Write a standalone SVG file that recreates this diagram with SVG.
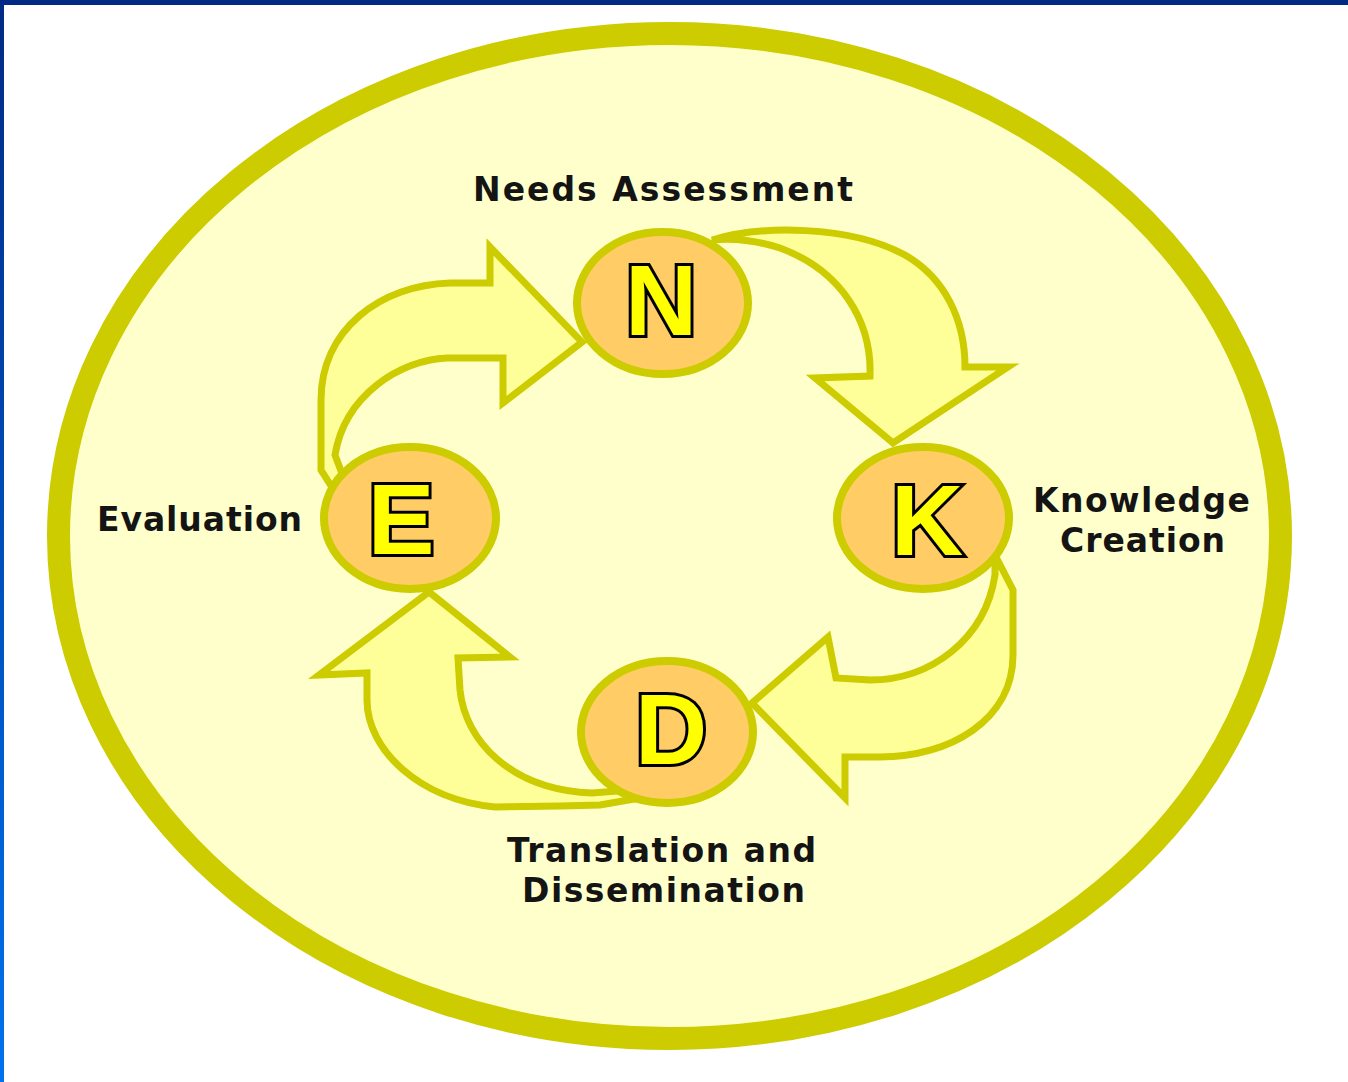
<svg xmlns="http://www.w3.org/2000/svg" width="1348" height="1082" viewBox="0 0 1348 1082">
  <defs>
    <linearGradient id="leftEdge" x1="0" y1="0" x2="0" y2="1">
      <stop offset="0" stop-color="#002a85"/>
      <stop offset="1" stop-color="#0072ee"/>
    </linearGradient>
    <style>
      .arrow { fill: #ffff99; stroke: #cccc00; stroke-width: 7; stroke-linejoin: miter; stroke-miterlimit: 10; }
      .node { fill: #ffcc66; stroke: #cccc00; stroke-width: 8; }
      .letter { font-family: "Liberation Sans", Arial, sans-serif; font-weight: bold; font-size: 100px; fill: #ffff00; stroke: #000000; stroke-width: 6; paint-order: stroke; stroke-linejoin: miter; text-anchor: middle; }
      .label { font-family: "DejaVu Sans", Verdana, sans-serif; font-weight: bold; font-size: 33px; fill: #141414; }
    </style>
  </defs>

  <rect x="0" y="0" width="1348" height="1082" fill="#ffffff"/>
  <rect x="0" y="0" width="1348" height="5" fill="#002a85"/>
  <rect x="0" y="0" width="4" height="1082" fill="url(#leftEdge)"/>

  <ellipse id="outer" cx="669.5" cy="536" rx="611" ry="502.5" fill="#ffffcc" stroke="#cccc00" stroke-width="23"/>

  <g id="connectors">
    <path class="arrow" d="M 340,500 L 321,470 L 321,400 C 321,330 380,285 450,283 L 490,283 L 490,247 L 582,342 L 503,403 L 503,358 L 447,358 C 400,360 345,395 335,455 L 350,495 Z"/>
    <path class="arrow" d="M 712,240 C 760,225 850,225 905,255 C 945,278 965,320 965,367 L 1008,367 L 893,443 L 815,378 L 870,376 C 872,320 840,270 780,248 C 755,240 730,238 712,240 Z"/>
    <path class="arrow" d="M 995,555 L 1013,590 L 1013,655 C 1013,720 950,757 880,757 L 845,757 L 845,798 L 752,703 L 828,637 L 836,678 L 870,680 C 930,680 985,640 995,575 Z"/>
    <path class="arrow" d="M 640,798 L 600,805 L 560,806 L 495,807 C 420,800 367,750 367,700 L 367,673 L 319,675 L 429,592 L 510,657 L 458,658 L 460,690 C 465,740 510,790 592,793 L 630,790 Z"/>
  </g>

  <g id="node-N">
    <ellipse class="node" cx="662.5" cy="303" rx="85.5" ry="71"/>
    <text class="letter" x="661" y="335">N</text>
    <text class="label" x="473" y="201" textLength="380" lengthAdjust="spacing">Needs Assessment</text>
  </g>

  <g id="node-K">
    <ellipse class="node" cx="923" cy="518" rx="86" ry="71"/>
    <text class="letter" x="927" y="555">K</text>
    <text class="label" x="1033" y="512" textLength="217" lengthAdjust="spacing">Knowledge</text>
    <text class="label" x="1060" y="552" textLength="165" lengthAdjust="spacing">Creation</text>
  </g>

  <g id="node-D">
    <ellipse class="node" cx="667" cy="732" rx="86" ry="71"/>
    <text class="letter" x="671" y="764">D</text>
    <text class="label" x="507" y="862" textLength="309" lengthAdjust="spacing">Translation and</text>
    <text class="label" x="522" y="902" textLength="283" lengthAdjust="spacing">Dissemination</text>
  </g>

  <g id="node-E">
    <ellipse class="node" cx="410" cy="518" rx="86" ry="71"/>
    <text class="letter" x="401" y="554">E</text>
    <text class="label" x="97" y="531" textLength="205" lengthAdjust="spacing">Evaluation</text>
  </g>
</svg>
